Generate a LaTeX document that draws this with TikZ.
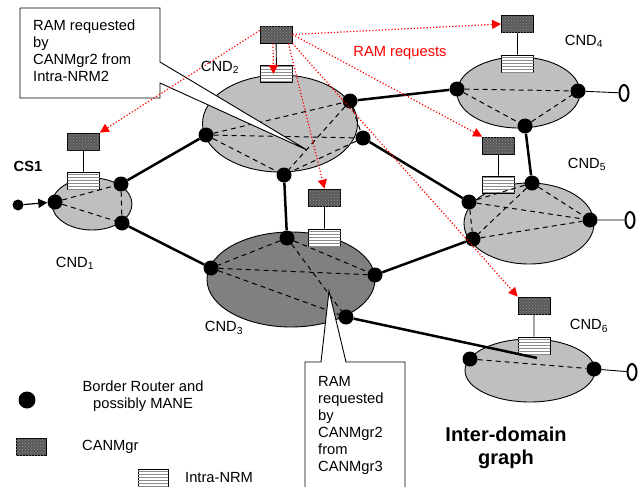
\documentclass[tikz,border=0pt]{standalone}
\usepackage{fontspec}
\setmainfont{Liberation Sans}
\usetikzlibrary{arrows.meta,shapes.geometric,patterns}

\begin{document}
\begin{tikzpicture}[x=1pt,y=-1pt,font=\fontsize{14.7}{17}\selectfont,
    cnd/.style={ellipse,draw,line width=0.9pt,fill=black!25,inner sep=0pt},
    router/.style={circle,fill=black,minimum size=15pt,inner sep=0pt},
    mgr/.style={rectangle,draw,line width=0.8pt,fill=black!65,postaction={pattern=crosshatch dots,pattern color=black!45},minimum width=32pt,minimum height=17pt,inner sep=0pt},
    nrm/.style={rectangle,draw,line width=0.8pt,fill=white,postaction={pattern=horizontal lines,pattern color=black!45},minimum width=32pt,minimum height=17pt,inner sep=0pt},
    term/.style={ellipse,draw,line width=2pt,fill=white,minimum width=9pt,minimum height=16pt,inner sep=0pt},
    inter/.style={line width=2.5pt},
    intra/.style={line width=1pt,dash pattern=on 5pt off 4pt},
    link/.style={line width=0.9pt},
    ram/.style={red,line width=1.2pt,dash pattern=on 1.2pt off 2pt,-{Triangle[length=9pt,width=9pt]}}]

  \useasboundingbox (0,0) rectangle (642,487);

  % domains
  \node[cnd,minimum width=80pt,minimum height=52pt]   (cnd1) at (92,204) {};
  \node[cnd,minimum width=155pt,minimum height=97pt]  (cnd2) at (280,123.5) {};
  \node[cnd,fill=black!50,minimum width=168pt,minimum height=95pt] (cnd3) at (291,279.5) {};
  \node[cnd,minimum width=123pt,minimum height=71pt]  (cnd4) at (518.5,92.5) {};
  \node[cnd,minimum width=130pt,minimum height=81pt]  (cnd5) at (529,223.5) {};
  \node[cnd,minimum width=130pt,minimum height=63pt]  (cnd6) at (530,370.5) {};

  % CANMgr and Intra-NRM of each domain
  \node[mgr] (mgr1) at (83.5,141.5) {};
  \node[nrm] (nrm1) at (83.5,180.5) {};
  \node[mgr] (mgr2) at (276,34.5) {};
  \node[nrm] (nrm2) at (276.5,74) {};
  \node[mgr] (mgr3) at (324.5,197.5) {};
  \node[nrm] (nrm3) at (324.5,237.5) {};
  \node[mgr] (mgr4) at (517.5,24) {};
  \node[nrm] (nrm4) at (517.5,63.5) {};
  \node[mgr] (mgr5) at (498.5,145.5) {};
  \node[nrm] (nrm5) at (498.5,184.5) {};
  \node[mgr] (mgr6) at (534,305.5) {};
  \node[nrm] (nrm6) at (534,345.5) {};
  \draw[link] (mgr1) -- (nrm1) (mgr2) -- (nrm2) (mgr3) -- (nrm3)
              (mgr4) -- (nrm4) (mgr5) -- (nrm5) (mgr6) -- (nrm6);

  % border routers
  \node[router] (r1a) at (55,202) {};
  \node[router] (r1b) at (121,184) {};
  \node[router] (r1c) at (122,223) {};
  \node[router] (r2a) at (206,135) {};
  \node[router] (r2b) at (350,101) {};
  \node[router] (r2c) at (363,138) {};
  \node[router] (r2d) at (284,175) {};
  \node[router] (r3a) at (287,238) {};
  \node[router] (r3b) at (211,268) {};
  \node[router] (r3c) at (375,275) {};
  \node[router] (r3d) at (346,317) {};
  \node[router] (r4a) at (457,89) {};
  \node[router] (r4b) at (578,91) {};
  \node[router] (r4c) at (525,126) {};
  \node[router] (r5a) at (532,183) {};
  \node[router] (r5b) at (469,202) {};
  \node[router] (r5c) at (473,239) {};
  \node[router] (r5d) at (590,220) {};
  \node[router] (r6a) at (470,359) {};
  \node[router] (r6b) at (594,369) {};

  % intra-domain links
  \draw[intra] (r1a) -- (r1b) (r1a) -- (r1c) (r1b) -- (r1c);
  \draw[intra] (r2a) -- (r2b) (r2a) -- (r2c) (r2a) -- (r2d)
               (r2b) -- (r2c) (r2b) -- (r2d) (r2c) -- (r2d);
  \draw[intra] (r3a) -- (r3b) (r3a) -- (r3c) (r3a) -- (r3d)
               (r3b) -- (r3c) (r3b) -- (r3d);
  \draw[intra] (r4a) -- (r4b) (r4a) -- (r4c) (r4c) -- (r4b);
  \draw[intra] (r5a) -- (r5b) (r5a) -- (r5c) (r5a) -- (r5d)
               (r5b) -- (r5c) (r5b) -- (r5d) (r5c) -- (r5d);
  \draw[intra] (r6a) -- (r6b);

  % inter-domain links
  \coordinate (end6) at (537,358);
  \draw[inter] (r1b) -- (r2a) (r1c) -- (r3b) (r2d) -- (r3a)
               (r2b) -- (r4a) (r2c) -- (r5b) (r4c) -- (r5a)
               (r3c) -- (r5c) (r3d) -- (end6);

  % end points
  \node[term] (t4) at (624,93) {};
  \node[term] (t5) at (630,220) {};
  \node[term] (t6) at (632,372) {};
  \draw[link] (r4b) -- (t4) (r5d) -- (t5) (r6b) -- (t6);

  \node[circle,fill=black,minimum size=11pt,inner sep=0pt] (src) at (18,205) {};
  \draw[line width=1.2pt,-{Triangle[length=9pt,width=9pt]}] (src) -- (r1a);

  % callouts
  \draw[fill=white,line width=0.9pt] (20,8) -- (160,8) -- (160,62) -- (307,150)
      -- (160,83) -- (160,98) -- (20,98) -- cycle;
  \node[align=left,anchor=west,inner sep=0pt] (note1) at (33,51)
      {RAM requested\\by\\CANMgr2 from\\Intra-NRM2};
  \fill[white] (305,487) -- (305,362) -- (321,362) -- (329,291) -- (346,362)
      -- (405,362) -- (405,487) -- cycle;
  \draw[line width=0.9pt] (305,487) -- (305,362) -- (321,362) -- (329,291)
      -- (346,362) -- (405,362) -- (405,487);
  \node[align=left,anchor=west,inner sep=0pt] (note2) at (318,425)
      {RAM\\requested\\by\\CANMgr2\\from\\CANMgr3};

  % RAM requests
  \draw[ram] ([yshift=4pt]mgr2.west) -- (mgr1.north east);
  \draw[ram] ([xshift=-3pt]mgr2.south) -- ([xshift=-3pt]nrm2.center);
  \draw[ram] ([xshift=-4pt]mgr2.south east) -- (mgr3.north);
  \draw[ram] (mgr2.east) -- (mgr4.west);
  \draw[ram] (mgr2.east) -- (mgr5.north west);
  \draw[ram] (mgr2.south east) -- (mgr6.north west);
  \node[red] (ramlabel) at (400,53) {RAM requests};

  % labels
  \node (cs1) at (28,166) {\bfseries CS1};
  \node (lab1) at (75,263) {CND\textsubscript{1}};
  \node (lab2) at (220,67) {CND\textsubscript{2}};
  \node (lab3) at (224,328) {CND\textsubscript{3}};
  \node (lab4) at (584,41) {CND\textsubscript{4}};
  \node (lab5) at (587,164) {CND\textsubscript{5}};
  \node (lab6) at (589,326) {CND\textsubscript{6}};
  \node[font=\fontsize{20}{23}\selectfont\bfseries,align=center] (title) at (506,448)
      {Inter-domain\\graph};

  % legend
  \node[router,minimum size=17pt] (keyrouter) at (27,400) {};
  \node[align=center] (keyroutertext) at (143,396.5) {Border Router and\\possibly MANE};
  \node[mgr,minimum width=30pt] (keymgr) at (31,446.5) {};
  \node[anchor=west,inner sep=0pt] (keymgrtext) at (82,447) {CANMgr};
  \node[nrm,minimum width=30pt] (keynrm) at (153,477.5) {};
  \node[anchor=west,inner sep=0pt] (keynrmtext) at (185,478) {Intra-NRM};
\end{tikzpicture}
\end{document}
